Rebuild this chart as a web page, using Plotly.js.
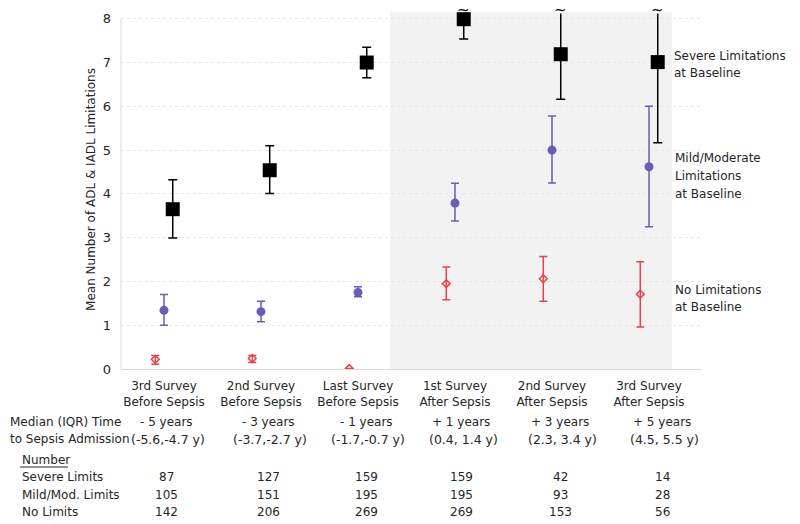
<!DOCTYPE html>
<html>
<head>
<meta charset="utf-8">
<script src="https://cdn.plot.ly/plotly-3.0.1.min.js"></script>
<style>html,body{margin:0;padding:0;background:#fff;}#chart{width:800px;height:524px;}</style>
</head>
<body>
<div id="chart"></div>
<script>
// ---------- data ----------
const categories = ['3rd Survey<br>Before Sepsis', '2nd Survey<br>Before Sepsis', 'Last Survey<br>Before Sepsis',
                    '1st Survey<br>After Sepsis', '2nd Survey<br>After Sepsis', '3rd Survey<br>After Sepsis'];
const medianTime = ['- 5 years', '- 3 years', '- 1 years', '+ 1 years', '+ 3 years', '+ 5 years'];
const iqrTime = ['(-5.6,-4.7 y)', '(-3.7,-2.7 y)', '(-1.7,-0.7 y)', '(0.4, 1.4 y)', '(2.3, 3.4 y)', '(4.5, 5.5 y)'];
const nSevere = [87, 127, 159, 159, 42, 14];
const nMild = [105, 151, 195, 195, 93, 28];
const nNone = [142, 206, 269, 269, 153, 56];

const severeMean = [3.65, 4.54, 7.00, 7.99, 7.19, 7.01];
const severeLo   = [2.99, 4.01, 6.65, 7.54, 6.16, 5.17];
const severeHi   = [4.32, 5.10, 7.35, null, null, null]; // null = beyond the axis (broken bar)
const mildMean = [1.34, 1.31, 1.75, 3.79, 5.00, 4.62];
const mildLo   = [1.00, 1.08, 1.65, 3.38, 4.25, 3.25];
const mildHi   = [1.70, 1.55, 1.88, 4.24, 5.78, 6.00];
const noneMean = [0.22, 0.24, 0.01, 1.95, 2.06, 1.71];
const noneLo   = [0.11, 0.15, 0.01, 1.58, 1.55, 0.96];
const noneHi   = [0.31, 0.31, 0.01, 2.33, 2.57, 2.45];

// ---------- layout helpers ----------
const W = 800, H = 524;
const PL = 121, PR = 702, PT = 10, PB = 369;
const YMAX = 8.2;
const YBREAK = 8.12;
const px2x = p => (p - PL) / (PR - PL);
const py2y = p => (PB - p) / (PB - PT);
const idx = categories.map((_, i) => i);
const OFF = 0.09;
const TXT = '#262626';
const FONT = 'DejaVu Sans, Verdana, sans-serif';

const RED = '#e5444b', PURPLE = '#6b5cb5', BLACK = '#000000';

const broken = idx.filter(i => severeHi[i] == null);

const traces = [
  {
    x: idx.map(i => i - OFF), y: noneMean, type: 'scatter', mode: 'markers', name: 'No Limitations',
    marker: {symbol: 'diamond-open', size: 6, color: RED, line: {width: 1.5, color: RED}},
    error_y: {type: 'data', symmetric: false, array: noneHi.map((h, i) => h - noneMean[i]),
              arrayminus: noneLo.map((l, i) => noneMean[i] - l), color: RED, thickness: 1.5, width: 4},
    hoverinfo: 'y'
  },
  {
    x: idx, y: mildMean, type: 'scatter', mode: 'markers', name: 'Mild/Moderate',
    marker: {symbol: 'circle', size: 9, color: PURPLE},
    error_y: {type: 'data', symmetric: false, array: mildHi.map((h, i) => h - mildMean[i]),
              arrayminus: mildLo.map((l, i) => mildMean[i] - l), color: PURPLE, thickness: 1.5, width: 4},
    hoverinfo: 'y'
  },
  // broken (off-scale) upper bars of the severe group
  {
    x: broken.map(i => i + OFF), y: broken.map(i => severeMean[i]),
    type: 'scatter', mode: 'markers', showlegend: false, hoverinfo: 'skip',
    marker: {size: 1, color: 'rgba(0,0,0,0)'},
    error_y: {type: 'data', symmetric: false,
              array: broken.map(i => YBREAK - severeMean[i]), arrayminus: broken.map(() => 0),
              color: BLACK, thickness: 1.5, width: 0}
  },
  {
    x: idx.map(i => i + OFF), y: severeMean, type: 'scatter', mode: 'markers', name: 'Severe',
    marker: {symbol: 'square', size: 14, color: BLACK},
    error_y: {type: 'data', symmetric: false,
              array: severeHi.map((h, i) => h == null ? 0 : h - severeMean[i]),
              arrayminus: severeLo.map((l, i) => severeMean[i] - l), color: BLACK, thickness: 1.5, width: 4.5},
    hoverinfo: 'y'
  }
];

const annotations = [];
function ann(text, px, py, anchor, size) {
  annotations.push({text: text, xref: 'paper', yref: 'paper', x: px2x(px), y: py2y(py),
    xanchor: anchor || 'center', yanchor: 'middle', showarrow: false, align: anchor || 'center',
    font: {family: FONT, size: size || 12, color: TXT}});
}
// break marks (~) above the off-scale bars
broken.forEach(i => {
  annotations.push({text: '~', xref: 'x', yref: 'paper', x: i + OFF, y: py2y(0), yanchor: 'top', xanchor: 'center',
    showarrow: false, borderpad: 0, font: {family: FONT, size: 15, color: BLACK}});
});
// right labels
ann('Severe Limitations', 672, 56, 'left');
ann('at Baseline', 672, 73, 'left');
ann('Mild/Moderate', 673, 158, 'left');
ann('Limitations', 673, 176, 'left');
ann('at Baseline', 673, 194, 'left');
ann('No Limitations', 673, 290, 'left');
ann('at Baseline', 673, 307, 'left');
// table below
const colPx = [166, 268, 366, 461, 560, 662];
ann('Median (IQR) Time', 8, 422, 'left');
ann('to Sepsis Admission', 8, 439, 'left');
ann('Number', 20, 460, 'left');
ann('Severe Limits', 20, 477, 'left');
ann('Mild/Mod. Limits', 20, 495, 'left');
ann('No Limits', 20, 512, 'left');
idx.forEach(i => {
  ann(medianTime[i], colPx[i], 422);
  ann(iqrTime[i], colPx[i] + 2, 439, 'center', 12.5);
  ann(String(nSevere[i]), colPx[i], 477);
  ann(String(nMild[i]), colPx[i], 495);
  ann(String(nNone[i]), colPx[i], 512);
});

const layout = {
  width: W, height: H,
  margin: {l: PL, r: W - PR, t: PT, b: H - PB, pad: 0},
  paper_bgcolor: '#ffffff', plot_bgcolor: '#ffffff',
  showlegend: false,
  font: {family: FONT, size: 12, color: TXT},
  xaxis: {
    range: [(PL - 164) / 97, (PR - 164) / 97],
    tickmode: 'array', tickvals: idx, ticktext: categories,
    ticks: '', showgrid: false, zeroline: false,
    showline: true, linecolor: '#d9d9d9', linewidth: 1,
    ticklabelstandoff: 6,
    tickfont: {family: FONT, size: 12, color: TXT},
    fixedrange: true
  },
  yaxis: {
    range: [0, YMAX], tickmode: 'array', tickvals: [0, 1, 2, 3, 4, 5, 6, 7, 8],
    ticks: '', showline: false, zeroline: false,
    showgrid: true, gridcolor: '#e6e6e6', griddash: 'dot', gridwidth: 1,
    ticklabelstandoff: 9,
    tickfont: {family: FONT, size: 13, color: TXT},
    title: {text: 'Mean Number of ADL & IADL Limitations', font: {family: FONT, size: 12, color: TXT}, standoff: 4},
    fixedrange: true
  },
  shapes: [
    {type: 'rect', xref: 'paper', yref: 'y', x0: px2x(390), x1: px2x(672), y0: 0, y1: 8.15,
     fillcolor: '#f2f2f2', line: {width: 0}, layer: 'below'},
    {type: 'line', xref: 'paper', yref: 'y', x0: 0, x1: 0, y0: 0, y1: 8,
     line: {color: '#d9d9d9', width: 1}},
    {type: 'line', xref: 'paper', yref: 'paper', x0: px2x(20), x1: px2x(68), y0: py2y(467), y1: py2y(467),
     line: {color: TXT, width: 1}}
  ],
  annotations: annotations
};

Plotly.newPlot('chart', traces, layout, {displayModeBar: false, staticPlot: true});
</script>
</body>
</html>
